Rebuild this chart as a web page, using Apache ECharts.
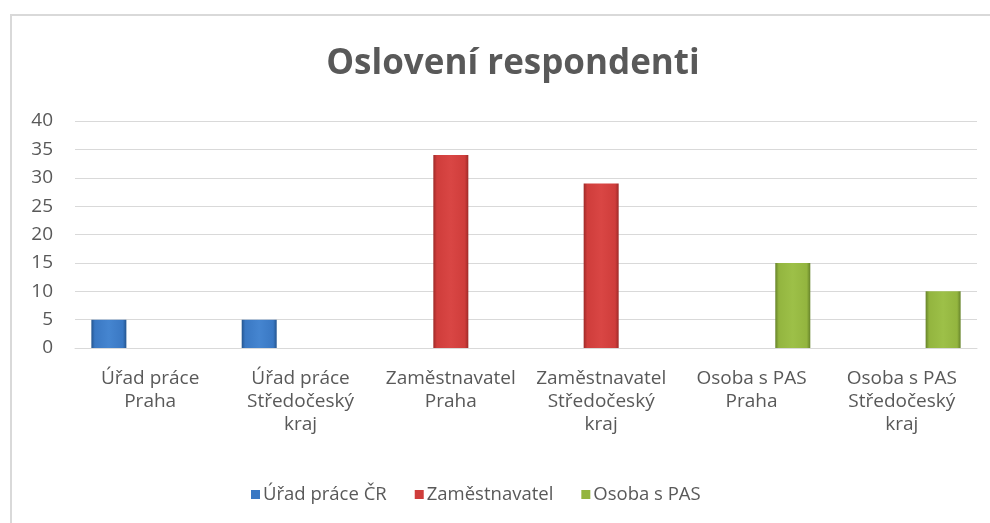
<!DOCTYPE html>
<html>
<head>
<meta charset="utf-8">
<script src="https://cdn.jsdelivr.net/npm/echarts@6/dist/echarts.min.js"></script>
<style>
  html, body { margin: 0; padding: 0; background: #fff; }
  #chart { width: 990px; height: 523px; }
</style>
</head>
<body>
<div id="chart"></div>
<script>
// kategorie na ose x
const categories = [
  'Úřad práce\nPraha',
  'Úřad práce\nStředočeský\nkraj',
  'Zaměstnavatel\nPraha',
  'Zaměstnavatel\nStředočeský\nkraj',
  'Osoba s PAS\nPraha',
  'Osoba s PAS\nStředočeský\nkraj'
]
const seriesNames = ['Úřad práce ČR', 'Zaměstnavatel', 'Osoba s PAS']
const uradPrace = [5, 5, null, null, null, null]
const zamestnavatel = [null, null, 34, 29, null, null]
const osobaPas = [null, null, null, null, 15, 10]

const FONT = '"Open Sans", "DejaVu Sans", sans-serif'
const TXT = '#595959'

function bevel(dark, mid, light) {
  return new echarts.graphic.LinearGradient(0, 0, 1, 0, [
    { offset: 0, color: dark },
    { offset: 0.1, color: mid },
    { offset: 0.5, color: light },
    { offset: 0.9, color: mid },
    { offset: 1, color: dark }
  ])
}

const colors = [
  bevel('#24558f', '#3a78c3', '#4585d0'),
  bevel('#9e2a28', '#cf3d3b', '#d94644'),
  bevel('#66832a', '#93b53f', '#9dc048')
]
const flat = ['#3a78c3', '#cf3d3b', '#93b53f']

const chart = echarts.init(document.getElementById('chart'))

const option = {
  animation: false,
  textStyle: { fontFamily: FONT },
  title: {
    text: 'Oslovení respondenti',
    left: 508,
    textAlign: 'center',
    top: 42,
    textStyle: { fontSize: 35, fontWeight: 'bold', color: TXT, fontFamily: FONT }
  },
  graphic: [{
    type: 'rect',
    shape: { x: 11, y: 15, width: 1000, height: 540 },
    style: { fill: 'none', stroke: '#d9d9d9', lineWidth: 2 },
    silent: true
  }],
  legend: {
    left: 246,
    top: 480,
    itemWidth: 9,
    itemHeight: 9,
    itemGap: 28,
    icon: 'rect',
    textStyle: { fontSize: 18.5, color: TXT, fontFamily: FONT, padding: [0, 0, 0, -2] },
    data: seriesNames.map((n, i) => ({ name: n, itemStyle: { color: flat[i] } }))
  },
  grid: { left: 75, right: 13, top: 121, bottom: 175 },
  xAxis: {
    type: 'category',
    data: categories,
    axisLine: { lineStyle: { color: '#d9d9d9', width: 1 } },
    axisTick: { show: false },
    axisLabel: {
      interval: 0,
      margin: 19,
      fontSize: 19,
      lineHeight: 23,
      color: TXT,
      fontFamily: FONT,
      align: 'center'
    }
  },
  yAxis: {
    type: 'value',
    min: 0,
    max: 40,
    interval: 5,
    axisLine: { show: false },
    axisTick: { show: false },
    splitLine: { lineStyle: { color: '#d9d9d9', width: 1 } },
    axisLabel: { fontSize: 19, color: TXT, margin: 22, fontFamily: FONT }
  },
  series: [
    { name: seriesNames[0], type: 'bar', data: uradPrace, barWidth: 35, barGap: '18%', itemStyle: { color: colors[0] } },
    { name: seriesNames[1], type: 'bar', data: zamestnavatel, barWidth: 35, barGap: '18%', itemStyle: { color: colors[1] } },
    { name: seriesNames[2], type: 'bar', data: osobaPas, barWidth: 35, barGap: '18%', itemStyle: { color: colors[2] } }
  ]
}

chart.setOption(option)
</script>
</body>
</html>
